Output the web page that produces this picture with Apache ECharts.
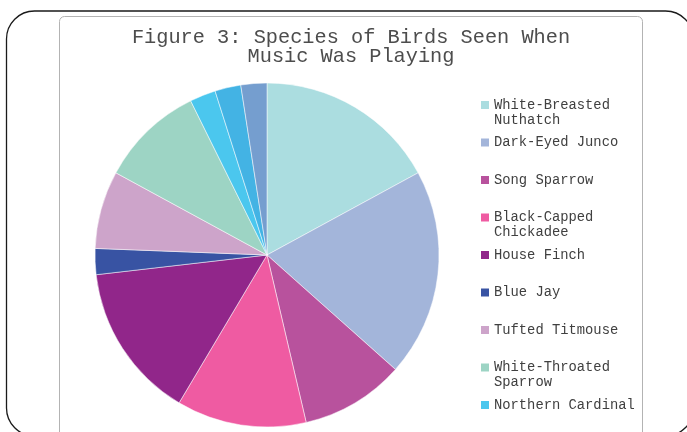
<!DOCTYPE html>
<html>
<head>
<meta charset="utf-8">
<script src="https://cdn.jsdelivr.net/npm/echarts@6/dist/echarts.min.js"></script>
<style>
  html, body { margin: 0; padding: 0; background: #fff; }
  #chart { width: 687px; height: 432px; }
</style>
</head>
<body>
<div id="chart"></div>
<script>
const chartTitle = 'Figure 3: Species of Birds Seen When\nMusic Was Playing';
const speciesNames = [
  'White-Breasted Nuthatch',
  'Dark-Eyed Junco',
  'Song Sparrow',
  'Black-Capped Chickadee',
  'House Finch',
  'Blue Jay',
  'Tufted Titmouse',
  'White-Throated Sparrow',
  'Northern Cardinal',
  'American Goldfinch',
  'Downy Woodpecker'
];
const birdCounts = [7, 8, 4, 5, 6, 1, 3, 4, 1, 1, 1];
const sliceColors = [
  '#abdde0', '#a3b5da', '#b8529d', '#ef5ba2', '#91268a', '#3853a3',
  '#cda4ca', '#9dd4c4', '#4bc7ee', '#43b3e4', '#759ecf'
];
const legendNames = speciesNames.slice(0, 9);

const chart = echarts.init(document.getElementById('chart'), null, { renderer: 'canvas' });

const pieData = speciesNames.map((n, i) => ({
  name: n,
  value: birdCounts[i],
  itemStyle: { color: sliceColors[i] }
}));

function legendLabel(name) {
  let lines = name.length > 17 ? name.replace(' ', '\n') : name + '\n ';
  return ' \n' + lines;
}

chart.setOption({
  animation: false,
  backgroundColor: '#ffffff',
  graphic: [
    {
      type: 'rect', silent: true, z: -10,
      shape: { x: 6.5, y: 11, width: 687, height: 425, r: 28 },
      style: { fill: 'none', stroke: '#1a1a1a', lineWidth: 1.3 }
    },
    {
      type: 'rect', silent: true, z: -9,
      shape: { x: 59.5, y: 16.5, width: 583, height: 445, r: 5 },
      style: { fill: 'none', stroke: '#b3b3b3', lineWidth: 1 }
    }
  ],
  title: {
    text: chartTitle,
    left: 351,
    top: 28,
    textAlign: 'center',
    padding: 0,
    textStyle: {
      fontFamily: 'Liberation Mono, Courier New, monospace',
      fontSize: 20.3,
      fontWeight: 'normal',
      color: '#4d4d4d',
      lineHeight: 19
    }
  },
  legend: {
    data: legendNames,
    orient: 'vertical',
    left: 481,
    top: 82.5,
    padding: 0,
    itemGap: -7.5,
    itemWidth: 8,
    itemHeight: 8,
    icon: 'rect',
    selectedMode: false,
    formatter: legendLabel,
    itemStyle: { borderWidth: 0 },
    textStyle: {
      fontFamily: 'Liberation Mono, Courier New, monospace',
      fontSize: 13.8,
      lineHeight: 15,
      color: '#404040'
    }
  },
  series: [{
    type: 'pie',
    center: [267, 255],
    radius: 172,
    startAngle: 90,
    clockwise: true,
    label: { show: false },
    labelLine: { show: false },
    silent: true,
    itemStyle: { borderColor: '#ffffff', borderWidth: 0.5 },
    data: pieData
  }]
});
</script>
</body>
</html>
